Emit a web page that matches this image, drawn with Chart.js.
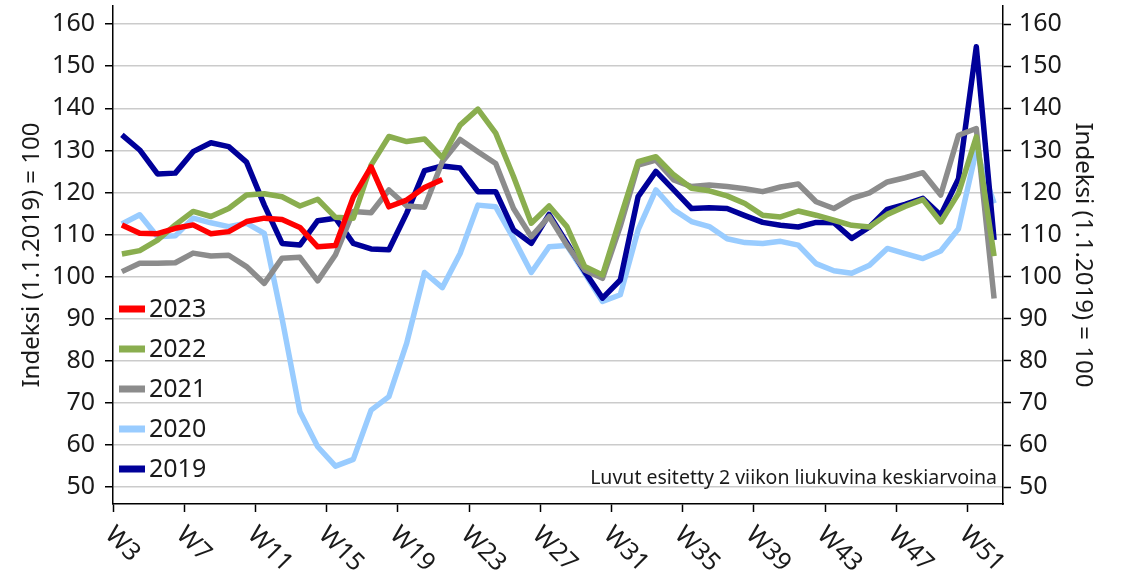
<!DOCTYPE html>
<html>
<head>
<meta charset="utf-8">
<script src="https://cdn.jsdelivr.net/npm/chart.js@4.4.0/dist/chart.umd.min.js"></script>
<style>
  html, body { margin: 0; padding: 0; background: #fff; }
  #chart { display: block; }
</style>
</head>
<body>
<canvas id="chart" width="1123" height="579"></canvas>
<script>
// categories: weeks W3..W52, labelled every 4th week
const weeks = ['W3','W4','W5','W6','W7','W8','W9','W10','W11','W12','W13','W14','W15','W16','W17','W18','W19','W20','W21','W22',
  'W23','W24','W25','W26','W27','W28','W29','W30','W31','W32','W33','W34','W35','W36','W37','W38','W39','W40','W41','W42',
  'W43','W44','W45','W46','W47','W48','W49','W50','W51','W52'];
const labelEvery = 4;

const values2019 = [133.7, 130.1, 124.4, 124.6, 129.7, 131.8, 130.9, 127.2, 117.0, 107.9,
  107.5, 113.3, 113.9, 107.9, 106.6, 106.4, 115.1, 125.2, 126.3, 125.8,
  120.2, 120.2, 111.1, 107.9, 114.8, 108.0, 101.2, 94.9, 99.2, 119.0,
  125.0, 120.6, 116.2, 116.4, 116.2, 114.5, 112.9, 112.2, 111.8, 112.9,
  112.8, 109.1, 111.8, 116.0, 117.2, 118.6, 114.6, 123.3, 154.6, 108.7];
const values2020 = [112.5, 114.7, 109.5, 109.7, 113.9, 112.8, 111.9, 112.7, 110.3, 90.0,
  67.9, 59.6, 55.0, 56.6, 68.3, 71.5, 84.2, 101.0, 97.4, 105.5,
  117.0, 116.6, 109.1, 101.0, 107.1, 107.4, 100.8, 94.1, 95.7, 111.1,
  120.6, 115.9, 113.1, 111.9, 109.0, 108.1, 107.9, 108.4, 107.5, 103.1,
  101.4, 100.8, 102.7, 106.7, 105.5, 104.3, 106.1, 111.4, 130.0, 117.4];
const values2021 = [101.2, 103.2, 103.2, 103.3, 105.6, 104.9, 105.1, 102.4, 98.4, 104.4,
  104.6, 99.0, 105.2, 115.5, 115.2, 120.6, 116.8, 116.5, 127.3, 132.6,
  129.7, 126.9, 116.2, 109.5, 114.3, 107.5, 101.6, 99.6, 112.0, 126.5,
  127.7, 123.0, 121.4, 121.8, 121.4, 120.9, 120.2, 121.3, 122.0, 117.8,
  116.2, 118.6, 119.9, 122.5, 123.5, 124.7, 119.4, 133.6, 135.2, 94.8];
const values2022 = [105.4, 106.2, 108.7, 112.3, 115.5, 114.3, 116.2, 119.4, 119.7, 119.0,
  116.8, 118.4, 114.1, 113.9, 126.5, 133.3, 132.1, 132.7, 128.3, 136.0,
  139.8, 134.1, 123.8, 112.7, 116.8, 111.9, 102.4, 100.4, 113.9, 127.3,
  128.5, 124.2, 121.0, 120.4, 119.2, 117.4, 114.6, 114.2, 115.6, 114.6,
  113.4, 112.2, 111.8, 114.8, 116.7, 118.3, 113.0, 119.8, 133.2, 104.9];
const values2023 = [112.3, 110.3, 110.2, 111.5, 112.3, 110.2, 110.7, 113.1, 113.9, 113.6,
  111.7, 107.1, 107.4, 118.9, 126.1, 116.6, 118.2, 121.2, 123.1];

const yTicks = [50, 60, 70, 80, 90, 100, 110, 120, 130, 140, 150, 160];
const yMin = 46;
const yMax = 164.3;

const axisTitle = 'Indeksi (1.1.2019) = 100';
const noteText = 'Luvut esitetty 2 viikon liukuvina keskiarvoina';
const legendYears = ['2023', '2022', '2021', '2020', '2019'];

const textColor = '#1a1a1a';
const fontFamily = '"Noto Sans", "Open Sans", sans-serif';
Chart.defaults.font.family = fontFamily;

function makeLine(label, data, color, order) {
    return {
        label: label,
        data: data,
        borderColor: color,
        backgroundColor: color,
        borderWidth: 5.5,
        pointRadius: 0,
        tension: 0,
        fill: false,
        borderJoinStyle: 'round',
        order: order
    };
}

const datasets = [
    makeLine('2023', values2023, '#ff0000', 0),
    makeLine('2022', values2022, '#8aae4f', 1),
    makeLine('2021', values2021, '#8c8c8c', 2),
    makeLine('2019', values2019, '#000099', 3),
    makeLine('2020', values2020, '#99ccff', 4)
];

// draws rotated week labels, the inner legend and the note
const overlayPlugin = {
    id: 'overlay',
    afterDraw(chart) {
        const ctx = chart.ctx;
        const area = chart.chartArea;
        const xs = chart.scales.x;
        const step = xs.getPixelForValue(1) - xs.getPixelForValue(0);
        ctx.save();
        ctx.fillStyle = textColor;

        // week labels, turned 45 degrees clockwise
        ctx.font = '25px ' + fontFamily;
        ctx.textAlign = 'left';
        ctx.textBaseline = 'alphabetic';
        weeks.forEach((w, i) => {
            if (i % labelEvery !== 0) return;
            const tickX = xs.getPixelForValue(i) - step / 2;
            ctx.save();
            ctx.translate(tickX - 9, area.bottom + 32);
            ctx.rotate(Math.PI / 4);
            ctx.fillText(w, 0, 0);
            ctx.restore();
        });

        // legend inside the plot
        ctx.textBaseline = 'middle';
        legendYears.forEach((year, k) => {
            const ds = chart.data.datasets.find(d => d.label === year);
            const cy = area.top + 303 + k * 40;
            ctx.fillStyle = ds.borderColor;
            ctx.fillRect(area.left + 6, cy - 3.5, 26, 7);
            ctx.fillStyle = textColor;
            ctx.fillText(year, area.left + 36, cy + 1);
        });

        // note in lower right corner
        ctx.font = '19.5px ' + fontFamily;
        ctx.textAlign = 'right';
        ctx.textBaseline = 'alphabetic';
        ctx.fillText(noteText, area.right - 6, area.bottom - 20);
        ctx.restore();
    }
};

const yTickOpts = { font: { size: 25 }, color: textColor };
const yTitleOpts = { display: true, text: axisTitle, font: { size: 24 }, color: textColor, padding: { top: 4, bottom: 4 } };

function fitY(width) {
    return s => {
        s.width = width;
        s.paddingTop = 0;
        s.paddingBottom = 0;
    };
}

const ctx = document.getElementById('chart').getContext('2d');
const chart = new Chart(ctx, {
    type: 'line',
    data: { labels: weeks, datasets: datasets },
    options: {
        responsive: false,
        animation: false,
        layout: { padding: { top: 6, left: 14, right: 22, bottom: 67 } },
        plugins: {
            legend: { display: false },
            tooltip: { enabled: false }
        },
        scales: {
            x: {
                type: 'category',
                offset: true,
                grid: {
                    offset: true,
                    drawOnChartArea: false,
                    tickLength: 8,
                    tickWidth: 1.5,
                    tickColor: c => (c.index % labelEvery === 0 ? '#000' : 'rgba(0,0,0,0)')
                },
                border: { color: '#000', width: 1.5 },
                ticks: { display: false }
            },
            y: {
                position: 'left',
                min: yMin,
                max: yMax,
                afterBuildTicks: s => { s.ticks = yTicks.map(v => ({ value: v })); },
                afterFit: fitY(99),
                grid: { color: '#cbcbcb', lineWidth: 1.5, tickLength: 8, tickColor: '#000', tickWidth: 1.5 },
                border: { color: '#000', width: 1.5 },
                ticks: Object.assign({ padding: 10 }, yTickOpts),
                title: yTitleOpts
            },
            y2: {
                position: 'right',
                min: yMin,
                max: yMax,
                afterBuildTicks: s => { s.ticks = yTicks.map(v => ({ value: v })); },
                afterFit: fitY(98),
                grid: { drawOnChartArea: false, tickLength: 8, tickColor: '#000', tickWidth: 1.5 },
                border: { color: '#000', width: 1.5 },
                ticks: Object.assign({ padding: 8 }, yTickOpts),
                title: yTitleOpts
            }
        }
    },
    plugins: [overlayPlugin]
});
</script>
</body>
</html>
